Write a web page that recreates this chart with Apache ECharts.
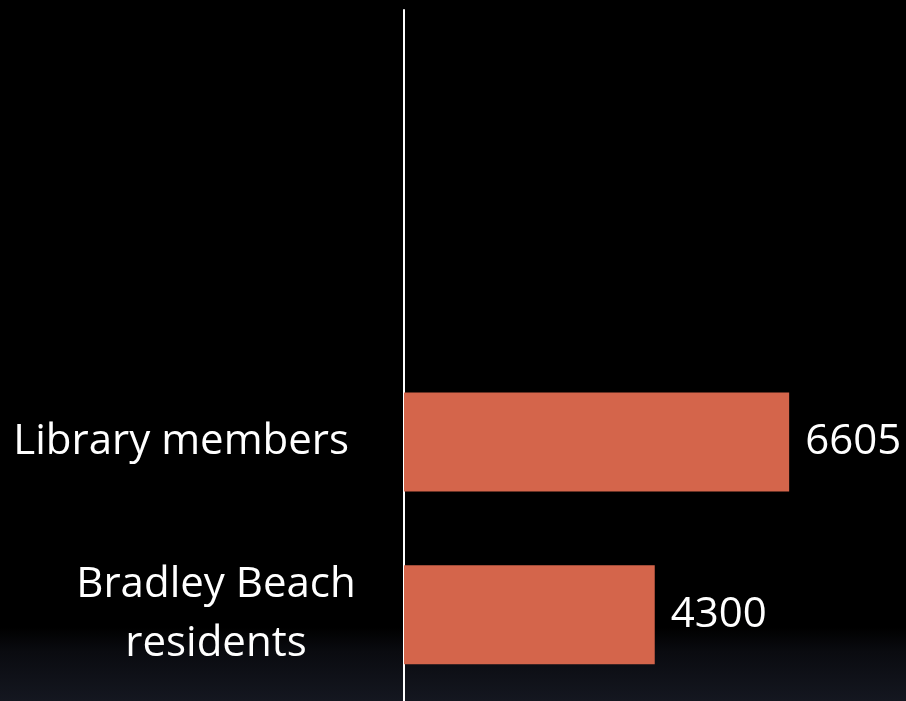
<!DOCTYPE html>
<html>
<head>
<meta charset="utf-8">
<script src="https://cdn.jsdelivr.net/npm/echarts@6/dist/echarts.min.js"></script>
<style>html,body{margin:0;padding:0;background:#000;}#c{width:906px;height:701px;}</style>
</head>
<body>
<div id="c"></div>
<script>
var categories = ['Bradley Beach\nresidents', 'Library members', '', ''];
var values = [4300, 6605, null, null];
var xMax = 8000;

var chart = echarts.init(document.getElementById('c'), null, {renderer: 'canvas'});
var FONT = '"Open Sans", sans-serif';
chart.setOption({
  backgroundColor: {
    type: 'linear', x: 0, y: 0, x2: 0, y2: 1,
    colorStops: [
      {offset: 0, color: '#000000'},
      {offset: 0.895, color: '#000000'},
      {offset: 0.93, color: '#0a0b10'},
      {offset: 1, color: '#141720'}
    ]
  },
  animation: false,
  grid: {left: 404, right: 35.5, top: 10, bottom: -3, containLabel: false},
  xAxis: {
    type: 'value', min: 0, max: xMax, show: false
  },
  yAxis: {
    type: 'category',
    data: categories,
    axisLine: {show: true, lineStyle: {color: '#ffffff', width: 2}},
    axisTick: {show: false},
    splitLine: {show: false},
    axisLabel: {
      margin: 47,
      color: '#ffffff',
      fontFamily: FONT,
      fontSize: 42,
      align: 'right',
      formatter: function (v) {
        if (!v) return '';
        var lines = v.split('\n');
        if (lines.length === 1) return '{l|' + v + '}';
        return lines.map(function (l) { return '{c|' + l + '}'; }).join('\n');
      },
      rich: {
        l: {padding: [0, 8, 0, 0], color: '#ffffff', fontFamily: FONT, fontSize: 42, lineHeight: 50},
        c: {width: 282, align: 'center', color: '#ffffff', fontFamily: FONT, fontSize: 42, lineHeight: 59}
      }
    }
  },
  series: [{
    type: 'bar',
    data: values,
    barWidth: 99,
    itemStyle: {color: '#d4654b'},
    label: {
      show: true,
      position: 'right',
      distance: 16,
      color: '#ffffff',
      fontFamily: FONT,
      fontSize: 42
    }
  }]
});
</script>
</body>
</html>
